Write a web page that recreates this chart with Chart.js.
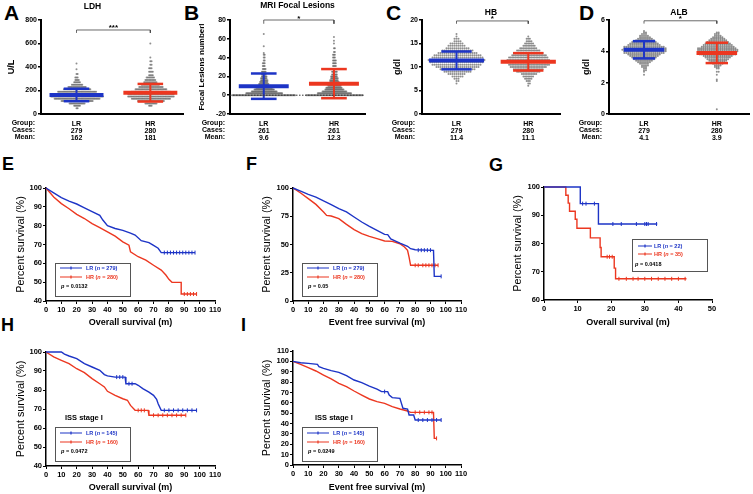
<!DOCTYPE html>
<html>
<head>
<meta charset="utf-8">
<title>LR vs HR</title>
<script src="https://cdn.jsdelivr.net/npm/chart.js@4.4.1/dist/chart.umd.min.js"></script>
<style>
  html, body { margin: 0; padding: 0; background: #fff; }
  body { position: relative; width: 753px; height: 494px; overflow: hidden; font-family: "Liberation Sans", Arial, sans-serif; }
  canvas { position: absolute; }
  .tag { position: absolute; font-weight: bold; line-height: 1; color: #000; }
</style>
</head>
<body>
<div class="tag" style="left:4px;top:2px;font-size:21px">A</div>
<div class="tag" style="left:184px;top:2px;font-size:21px">B</div>
<div class="tag" style="left:386px;top:2px;font-size:21px">C</div>
<div class="tag" style="left:579px;top:2px;font-size:21px">D</div>
<div class="tag" style="left:2px;top:155px;font-size:18px">E</div>
<div class="tag" style="left:246px;top:155px;font-size:18px">F</div>
<div class="tag" style="left:489px;top:156px;font-size:18px">G</div>
<div class="tag" style="left:1px;top:316px;font-size:18px">H</div>
<div class="tag" style="left:241px;top:316px;font-size:18px">I</div>
<script>
// ---- data: dot plots (value bins and number of patients in each bin) ----
const groups = ['LR', 'HR'];

const ldhLRValues = [50, 70, 90, 110, 130, 150, 170, 190, 210, 230, 250, 270, 290, 310, 340, 380, 430];
const ldhLRCounts = [2, 6, 14, 28, 40, 46, 42, 34, 24, 16, 10, 6, 4, 3, 2, 1, 1];
const ldhHRValues = [70, 90, 110, 130, 150, 170, 190, 210, 230, 250, 270, 290, 310, 330, 360, 390, 420, 450, 480, 600];
const ldhHRCounts = [3, 10, 22, 32, 38, 38, 32, 26, 20, 15, 11, 9, 7, 4, 4, 3, 2, 2, 1, 1];
const ldhCases = [279, 280];
const ldhMeans = [162, 181];
const ldhSDs = [53, 75];

const mriLRValues = [0, 2, 4, 6, 8, 10, 12, 14, 16, 18, 20, 22, 25, 28, 31, 34, 37, 40, 43, 45, 52, 65];
const mriLRCounts = [69, 40, 28, 22, 18, 14, 11, 9, 8, 7, 6, 5, 5, 4, 3, 3, 2, 2, 2, 1, 1, 1];
const mriHRValues = [0, 2, 4, 6, 8, 10, 12, 14, 16, 18, 20, 22, 25, 28, 31, 34, 37, 40, 43, 46, 50, 55, 58, 62];
const mriHRCounts = [60, 36, 26, 20, 17, 14, 12, 10, 9, 8, 7, 6, 6, 5, 4, 4, 4, 3, 3, 2, 2, 1, 1, 1];
const mriCases = [261, 261];
const mriMeans = [9.6, 12.3];
const mriSDs = [13.5, 15.5];

const hbLRValues = [6.5, 7, 7.5, 8, 8.5, 9, 9.5, 10, 10.5, 11, 11.5, 12, 12.5, 13, 13.5, 14, 14.5, 15, 15.5, 16, 16.5, 17];
const hbLRCounts = [1, 2, 3, 6, 9, 14, 18, 22, 25, 27, 29, 26, 24, 20, 16, 12, 9, 7, 4, 3, 1, 1];
const hbHRValues = [6, 6.5, 7, 7.5, 8, 8.5, 9, 9.5, 10, 10.5, 11, 11.5, 12, 12.5, 13, 13.5, 14, 14.5, 15, 15.5, 16, 16.5];
const hbHRCounts = [1, 2, 3, 5, 7, 10, 15, 19, 23, 26, 28, 27, 25, 22, 19, 15, 11, 8, 6, 4, 3, 1];
const hbCases = [279, 280];
const hbMeans = [11.4, 11.1];
const hbSDs = [1.9, 1.85];

const albLRValues = [2.5, 2.7, 2.8, 2.9, 3.0, 3.1, 3.2, 3.3, 3.4, 3.5, 3.6, 3.7, 3.8, 3.9, 4.0, 4.1, 4.2, 4.3, 4.4, 4.5, 4.6, 4.7, 4.8, 4.9, 5.0, 5.1, 5.2, 5.3];
const albLRCounts = [1, 1, 2, 2, 3, 4, 5, 7, 9, 11, 13, 15, 17, 21, 22, 23, 22, 21, 17, 15, 13, 10, 8, 6, 5, 3, 2, 1];
const albHRValues = [0.3, 2.1, 2.2, 2.5, 2.7, 2.9, 3.0, 3.1, 3.2, 3.3, 3.4, 3.5, 3.6, 3.7, 3.8, 3.9, 4.0, 4.1, 4.2, 4.3, 4.4, 4.5, 4.6, 4.7, 4.8, 4.9, 5.0, 5.1, 5.2];
const albHRCounts = [1, 1, 1, 1, 2, 2, 3, 4, 6, 8, 10, 12, 14, 16, 20, 21, 22, 22, 21, 18, 16, 14, 12, 10, 8, 6, 4, 3, 2];
const albCases = [279, 280];
const albMeans = [4.1, 3.9];
const albSDs = [0.55, 0.65];

// ---- data: Kaplan-Meier curves (months, % surviving) ----
const osTimeLR = [0, 5, 10, 15, 20, 25, 30, 35, 37, 40, 45, 50, 55, 58, 62, 67, 70, 73, 75, 97];
const osSurvLR = [100, 97.4, 94.9, 93, 91.5, 89.5, 87.5, 85.5, 83, 80, 78.5, 77.5, 76, 75, 72, 71, 69.5, 68, 65.7, 65.7];
const osTimeHR = [0, 5, 10, 15, 20, 25, 30, 35, 40, 45, 50, 54, 55, 60, 65, 70, 75, 78, 80, 82, 88, 88, 98];
const osSurvHR = [100, 95.2, 91.7, 89, 86, 83.8, 81.1, 79, 76.7, 74.4, 71.4, 69.6, 66.1, 63.5, 61.7, 59, 56.4, 53.8, 51.5, 49.9, 49.9, 43.7, 43.7];
const osCensorTimeLR = [77, 79, 81, 83, 85, 87, 89, 91, 93, 95, 97];
const osCensorSurvLR = [65.7, 65.7, 65.7, 65.7, 65.7, 65.7, 65.7, 65.7, 65.7, 65.7, 65.7];
const osCensorTimeHR = [90, 92, 94, 96, 98];
const osCensorSurvHR = [43.7, 43.7, 43.7, 43.7, 43.7];

const efsTimeLR = [0, 5, 10, 15, 20, 25, 30, 35, 40, 45, 50, 55, 60, 62, 64, 70, 75, 77, 80, 92, 92.5, 97];
const efsSurvLR = [100, 97.3, 94.4, 92, 88.5, 85.3, 81.7, 78.8, 74.3, 69.9, 66, 62.5, 59, 58.7, 55, 51.3, 48.4, 46.3, 45.4, 44.8, 21.8, 21.8];
const efsTimeHR = [0, 5, 10, 15, 20, 22, 25, 30, 35, 40, 45, 50, 55, 60, 65, 70, 73, 75, 76, 77, 95];
const efsSurvHR = [100, 95.6, 90.6, 85.5, 78.8, 75.8, 75.2, 72.9, 67.8, 63.1, 59.6, 57.2, 55.2, 53.1, 52.8, 50.7, 47.8, 44.8, 38.9, 31.6, 31.6];
const efsCensorTimeLR = [82, 84, 86, 88, 90, 97];
const efsCensorSurvLR = [45, 45, 45, 45, 45, 21.8];
const efsCensorTimeHR = [80, 82, 85, 87, 89, 91, 93, 95];
const efsCensorSurvHR = [31.6, 31.6, 31.6, 31.6, 31.6, 31.6, 31.6, 31.6];

const subTimeLR = [0, 10.8, 16.2, 33.7];
const subSurvLR = [100, 94.1, 86.9, 86.9];
const subTimeHR = [0, 6.5, 7.2, 7.6, 9.3, 9.8, 13.8, 16.7, 17.0, 20.9, 21.3, 42.4];
const subSurvHR = [100, 97.1, 94.3, 91.4, 88.6, 85.4, 82.0, 78.6, 75.3, 71.3, 67.5, 67.5];
const subCensorTimeLR = [11.5, 12.5, 15, 20.5, 23, 27.5, 30, 30.5, 31, 33.5];
const subCensorSurvLR = [94.1, 94.1, 94.1, 86.9, 86.9, 86.9, 86.9, 86.9, 86.9, 86.9];
const subCensorTimeHR = [18.8, 19.5, 20.3, 22.3, 24.5, 26.5, 28, 30, 32, 34, 36, 38, 40, 42];
const subCensorSurvHR = [75.3, 75.3, 75.3, 67.5, 67.5, 67.5, 67.5, 67.5, 67.5, 67.5, 67.5, 67.5, 67.5, 67.5];

const issOsTimeLR = [0, 10, 12, 15, 20, 25, 30, 35, 38, 40, 45, 51.5, 52, 58, 60, 63, 67, 70, 72, 73, 75, 98];
const issOsSurvLR = [100, 100, 98.9, 97.9, 96.5, 93.9, 92.1, 90.4, 88.1, 87.4, 86.8, 86.8, 83.3, 83.3, 82.5, 80.7, 78.9, 77.2, 75.1, 72.8, 69.3, 69.3];
const issOsTimeHR = [0, 5, 10, 15, 20, 25, 30, 35, 38, 40, 45, 50, 53, 55, 58, 66.5, 67, 91];
const issOsSurvHR = [100, 97.4, 95.6, 93.9, 91.2, 89.1, 86, 83.3, 81.6, 79.3, 77.2, 75.4, 74.6, 71.9, 69.3, 69.3, 66.7, 66.7];
const issOsCensorTimeLR = [46, 48, 50, 54, 56, 77, 80, 83, 86, 89, 92, 95, 98];
const issOsCensorSurvLR = [86.8, 86.8, 86.8, 83.3, 83.3, 69.3, 69.3, 69.3, 69.3, 69.3, 69.3, 69.3, 69.3];
const issOsCensorTimeHR = [60, 62, 64, 70, 73, 76, 79, 82, 85, 88, 91];
const issOsCensorSurvHR = [69.3, 69.3, 69.3, 66.7, 66.7, 66.7, 66.7, 66.7, 66.7, 66.7, 66.7];

const issEfsTimeLR = [0, 5, 10, 16, 17, 20, 25, 30, 35, 40, 45, 50, 55, 58, 62, 63, 65, 70, 71, 72, 75, 76, 79, 80, 97];
const issEfsSurvLR = [100, 98.7, 98.1, 97.1, 94.9, 93.3, 91, 89.4, 86.2, 82, 79.4, 76.2, 73.3, 70.8, 70.8, 67.5, 65, 64.3, 59.5, 54.7, 54, 48.2, 48.2, 43.4, 43.4];
const issEfsTimeHR = [0, 5, 10, 15, 20, 25, 30, 35, 40, 45, 50, 55, 60, 65, 70, 75, 77, 92, 92.5, 94];
const issEfsSurvHR = [100, 97.1, 93.9, 90.7, 86.8, 83, 78.8, 75.6, 71.4, 67.5, 63.7, 61.1, 59.5, 56.3, 54, 52.1, 50.8, 50.8, 25.7, 25.7];
const issEfsCensorTimeLR = [60, 82, 85, 88, 91, 94, 97];
const issEfsCensorSurvLR = [70.8, 43.4, 43.4, 43.4, 43.4, 43.4, 43.4];
const issEfsCensorTimeHR = [80, 83, 86, 89, 91, 94];
const issEfsCensorSurvHR = [50.8, 50.8, 50.8, 50.8, 50.8, 25.7];

// ---- styling ----
const FONT = '"Liberation Sans", Arial, sans-serif';
const BLUE = '#1d34c6';
const RED = '#ec3720';
const DOT = 'rgba(95,95,95,0.7)';
const LR_X = 0.25, HR_X = 0.77; // group centres on the 0..1 x scale

Chart.defaults.font.family = FONT;
Chart.defaults.color = '#000';
Chart.defaults.animation = false;

function makeCanvas(g) {
  const c = document.createElement('canvas');
  const left = Math.round(g.plot[0] - g.yw), top = Math.round(g.plot[1] - g.pt);
  const w = Math.round(g.plot[2] + g.pr) - left, h = Math.round(g.plot[3] + g.xh) - top;
  c.style.left = left + 'px'; c.style.top = top + 'px';
  c.width = w; c.height = h;
  document.body.appendChild(c);
  g.yw = g.plot[0] - left; g.xh = top + h - g.plot[3]; g.pt = g.plot[1] - top; g.pr = left + w - g.plot[2];
  return c;
}

// fixed-size axes so the plot area lands where the figure has it
const fixW = w => s => { s.width = w; s.paddingTop = 0; s.paddingBottom = 0; };
const fixH = h => s => { s.height = h; s.paddingLeft = 0; s.paddingRight = 0; };

function swarm(vals, counts, xc, gap) {
  const pts = [];
  vals.forEach((v, i) => {
    for (let k = 0; k < counts[i]; k++) {
      const off = (k % 2 ? 1 : -1) * Math.ceil(k / 2);
      pts.push({ x: xc + off * gap, y: v });
    }
  });
  return pts;
}

function seg(pts, color, width, extra) {
  return Object.assign({ data: pts.map(p => ({ x: p[0], y: p[1] })), borderColor: color, borderWidth: width,
    showLine: true, pointRadius: 0, borderCapStyle: 'butt', clip: false }, extra || {});
}

const dotText = {
  id: 'dotText',
  afterDraw(chart, args, o) {
    const { ctx, chartArea: a, scales: { x, y } } = chart;
    ctx.save();
    ctx.fillStyle = '#000';
    ctx.textAlign = 'center';
    ctx.textBaseline = 'middle';
    ctx.font = 'bold 8.5px ' + FONT;
    ctx.fillText(o.title, (a.left + a.right) / 2 + o.titleDx, a.top - o.titleGap);
    ctx.textBaseline = 'alphabetic';
    ctx.font = 'bold 8px ' + FONT;
    ctx.fillText(o.stars, x.getPixelForValue((LR_X + HR_X) / 2), y.getPixelForValue(o.bracket) + 0.5);
    ctx.textAlign = 'right';
    ctx.textBaseline = 'middle';
    ctx.font = 'bold 7px ' + FONT;
    ['Group:', 'Cases:', 'Mean:'].forEach((t, i) => ctx.fillText(t, a.left - o.rowGap, a.bottom + 9.5 + 7 * i));
    ctx.restore();
  }
};

function dotPlot(g, p) {
  const canvas = makeCanvas(g);
  const perPx = 1 / (g.plot[2] - g.plot[0]);
  const centers = [LR_X, HR_X];
  const marks = [], dots = [];
  marks.push(seg([[LR_X, p.bracket - p.tick], [LR_X, p.bracket], [HR_X, p.bracket], [HR_X, p.bracket - p.tick]], '#444', 0.8));
  if (p.zeroLine) marks.push(seg([[0, 0], [1, 0]], '#333', 1, { borderDash: [1.5, 1.5] }));
  p.values.forEach((vals, i) => {
    const xc = centers[i], col = i ? RED : BLUE, m = p.means[i], sd = p.sds[i];
    marks.push(seg([[xc - g.meanHalf, m], [xc + g.meanHalf, m]], col, 4));
    marks.push(seg([[xc - g.capHalf, m + sd], [xc + g.capHalf, m + sd]], col, 2.5));
    marks.push(seg([[xc - g.capHalf, m - sd], [xc + g.capHalf, m - sd]], col, 2.5));
    marks.push(seg([[xc, m - sd], [xc, m + sd]], col, 2));
    dots.push({ data: swarm(vals, p.counts[i], xc, g.dotGap[i] * perPx), pointRadius: 1,
      pointBackgroundColor: DOT, pointBorderWidth: 0, showLine: false });
  });
  const labels = groups.map((grp, i) => [grp, String(p.cases[i]), String(p.means[i])]);
  new Chart(canvas, {
    type: 'scatter',
    data: { datasets: marks.concat(dots) },
    options: {
      responsive: false, devicePixelRatio: 1,
      layout: { padding: { top: g.pt, right: g.pr, bottom: 0, left: 0 } },
      plugins: { legend: { display: false }, tooltip: { enabled: false },
        dotText: { title: p.title, titleDx: g.titleDx, titleGap: g.titleGap, stars: p.stars, bracket: p.bracket, rowGap: g.rowGap } },
      scales: {
        x: {
          type: 'linear', min: 0, max: 1,
          afterBuildTicks: s => { s.ticks = centers.map(v => ({ value: v })); },
          afterFit: fixH(g.xh),
          grid: { display: false },
          border: { display: true, color: '#000', width: 2 },
          ticks: { autoSkip: false, maxRotation: 0, padding: -1.5, font: { size: 7, weight: 'bold', lineHeight: 1 },
            callback: (v, i) => labels[i] }
        },
        y: {
          min: p.min, max: p.max,
          afterFit: fixW(g.yw),
          grid: { drawOnChartArea: false, color: '#000', lineWidth: 1.5, tickLength: 3 },
          border: { display: true, color: '#000', width: 2 },
          ticks: { stepSize: p.step, padding: 1, font: { size: 7, weight: 'bold' } },
          title: { display: true, text: p.yTitle, padding: { top: 6.6, bottom: 0 }, font: { size: p.yTitleSize, weight: 'bold' } }
        }
      }
    },
    plugins: [dotText]
  });
}

function drawRich(ctx, parts, x, y, size) {
  parts.forEach(([txt, style]) => {
    ctx.font = style + ' ' + size + 'px ' + FONT;
    ctx.fillText(txt, x, y);
    x += ctx.measureText(txt).width;
  });
}

const kmText = {
  id: 'kmText',
  afterDraw(chart, args, o) {
    const { ctx, chartArea: a } = chart;
    const L = o.box;
    const bx = Math.round(a.left + L.x), by = Math.round(a.top + L.y);
    ctx.save();
    ctx.strokeStyle = '#555';
    ctx.lineWidth = 1;
    ctx.strokeRect(bx + 0.5, by + 0.5, L.w, L.h);
    ctx.textAlign = 'left';
    ctx.textBaseline = 'middle';
    o.series.forEach((s, i) => {
      const ry = by + L.rows[i];
      ctx.strokeStyle = s.color;
      ctx.lineWidth = 1.2;
      ctx.beginPath();
      ctx.moveTo(bx + L.line[0], ry);
      ctx.lineTo(bx + L.line[1], ry);
      const mx = bx + (L.line[0] + L.line[1]) / 2;
      ctx.moveTo(mx, ry - 1.5);
      ctx.lineTo(mx, ry + 1.5);
      ctx.stroke();
      ctx.fillStyle = s.color;
      drawRich(ctx, [[s.name + ' (', 'bold'], ['n', 'italic bold'], [' = ' + s.n + ')', 'bold']], bx + L.textX, ry, 5.5);
    });
    ctx.fillStyle = '#000';
    drawRich(ctx, [['p', 'italic bold'], [' = ' + o.p, 'bold']], bx + L.pX, by + L.rows[2], 5.5);
    if (o.note) {
      ctx.font = 'bold 7.5px ' + FONT;
      ctx.fillText(o.note.text, a.left + o.note.x, a.top + o.note.y);
    }
    ctx.restore();
  }
};

function kmGeo(plot, yTitleX, xTitleY) {
  return { plot, yw: plot[0] - Math.round(yTitleX - 8.5), pt: 7, pr: 10, xh: Math.round(xTitleY + 5.4) - plot[3] };
}

function kmPlot(g, k) {
  const canvas = makeCanvas(g);
  const datasets = [];
  k.curves.forEach(c => {
    datasets.push({ data: c.t.map((t, i) => ({ x: t, y: c.s[i] })), borderColor: c.color, borderWidth: 1.4,
      pointRadius: 0, showLine: true, stepped: !!k.stepped, clip: false });
    datasets.push({ data: c.ct.map((t, i) => ({ x: t, y: c.cs[i] })), pointStyle: 'line', rotation: 90,
      pointRadius: 2, pointBorderColor: c.color, pointBorderWidth: 1, showLine: false, clip: false });
  });
  new Chart(canvas, {
    type: 'scatter',
    data: { datasets },
    options: {
      responsive: false, devicePixelRatio: 1,
      layout: { padding: { top: g.pt, right: g.pr, bottom: 0, left: 0 } },
      plugins: { legend: { display: false }, tooltip: { enabled: false },
        kmText: { box: k.box, series: k.curves, p: k.p, note: k.note } },
      scales: {
        x: {
          type: 'linear', min: 0, max: k.xMax,
          afterFit: fixH(g.xh),
          grid: { drawOnChartArea: false, color: '#000', lineWidth: 1, tickLength: 3 },
          border: { display: true, color: '#000', width: 1.5 },
          ticks: { stepSize: 10, autoSkip: false, maxRotation: 0, padding: 1, font: { size: 7.5, weight: 'bold' } },
          title: { display: true, text: k.xTitle, padding: { top: 0, bottom: 0 }, font: { size: 9, weight: 'bold' } }
        },
        y: {
          min: k.yMin, max: k.yMax,
          afterFit: fixW(g.yw),
          grid: { drawOnChartArea: false, color: '#000', lineWidth: 1, tickLength: 3 },
          border: { display: true, color: '#000', width: 1.5 },
          ticks: { stepSize: k.yStep, autoSkip: false, padding: 1, font: { size: 7.5, weight: 'bold' } },
          title: { display: true, text: 'Percent survival (%)', padding: { top: 2, bottom: 0 }, font: { size: 10.8 } }
        }
      }
    },
    plugins: [kmText]
  });
}

// ---- top row: dot plots ----
dotPlot({ plot: [41, 20, 183, 114], yw: 41, pt: 20, pr: 6, xh: 34, meanHalf: 0.19, capHalf: 0.09, dotGap: [1.15, 1.23], titleDx: -19.5, titleGap: 13, rowGap: 6 },
  { title: 'LDH', yTitle: 'U/L', yTitleSize: 9, min: 0, max: 800, step: 200, stars: '***', bracket: 715, tick: 25,
    values: [ldhLRValues, ldhHRValues], counts: [ldhLRCounts, ldhHRCounts], cases: ldhCases, means: ldhMeans, sds: ldhSDs });

dotPlot({ plot: [230, 20, 365, 114], yw: 40, pt: 20, pr: 4, xh: 34, meanHalf: 0.185, capHalf: 0.095, dotGap: [0.92, 0.95], titleDx: 0, titleGap: 14, rowGap: 5 },
  { title: 'MRI Focal Lesions', yTitle: 'Focal Lesions numberl', yTitleSize: 8, min: -20, max: 80, step: 20, stars: '*', bracket: 80, tick: 4, zeroLine: true,
    values: [mriLRValues, mriHRValues], counts: [mriLRCounts, mriHRCounts], cases: mriCases, means: mriMeans, sds: mriSDs });

dotPlot({ plot: [422, 20, 560, 114], yw: 36, pt: 20, pr: 4, xh: 34, meanHalf: 0.2, capHalf: 0.11, dotGap: [2, 1.6], titleDx: 0, titleGap: 7.5, rowGap: 7 },
  { title: 'HB', yTitle: 'g/dl', yTitleSize: 9, min: 0, max: 20, step: 5, stars: '*', bracket: 19.8, tick: 0.6,
    values: [hbLRValues, hbHRValues], counts: [hbLRCounts, hbHRCounts], cases: hbCases, means: hbMeans, sds: hbSDs });

dotPlot({ plot: [609, 20, 751, 114], yw: 34, pt: 20, pr: 2, xh: 34, meanHalf: 0.145, capHalf: 0.08, dotGap: [2, 1.9], titleDx: 0, titleGap: 7.5, rowGap: 7 },
  { title: 'ALB', yTitle: 'g/dl', yTitleSize: 9, min: 0, max: 6, step: 2, stars: '*', bracket: 5.95, tick: 0.18,
    values: [albLRValues, albHRValues], counts: [albLRCounts, albHRCounts], cases: albCases, means: albMeans, sds: albSDs });

// ---- survival curves ----
const legendWide = { x: 9, y: 75, w: 75, h: 33, rows: [5, 14, 23], line: [5, 27], textX: 31, pX: 6 };

kmPlot(kmGeo([46, 188, 215, 301], 21, 323), {
  xMax: 110, yMin: 40, yMax: 100, yStep: 10, xTitle: 'Overall survival (m)', p: '0.0132', box: legendWide,
  curves: [
    { name: 'LR', n: 279, color: BLUE, t: osTimeLR, s: osSurvLR, ct: osCensorTimeLR, cs: osCensorSurvLR },
    { name: 'HR', n: 280, color: RED, t: osTimeHR, s: osSurvHR, ct: osCensorTimeHR, cs: osCensorSurvHR }
  ]
});

kmPlot(kmGeo([293, 188, 461, 301], 267, 323), {
  xMax: 110, yMin: 0, yMax: 100, yStep: 25, xTitle: 'Event free survival (m)', p: '0.05', box: legendWide,
  curves: [
    { name: 'LR', n: 279, color: BLUE, t: efsTimeLR, s: efsSurvLR, ct: efsCensorTimeLR, cs: efsCensorSurvLR },
    { name: 'HR', n: 280, color: RED, t: efsTimeHR, s: efsSurvHR, ct: efsCensorTimeHR, cs: efsCensorSurvHR }
  ]
});

kmPlot(kmGeo([544, 187, 712, 300], 518, 323), {
  xMax: 50, yMin: 60, yMax: 100, yStep: 10, xTitle: 'Overall survival (m)', p: '0.0418', stepped: true,
  box: { x: 88, y: 52, w: 75, h: 32, rows: [7, 15, 25], line: [6, 20], textX: 22, pX: 3 },
  curves: [
    { name: 'LR', n: 22, color: BLUE, t: subTimeLR, s: subSurvLR, ct: subCensorTimeLR, cs: subCensorSurvLR },
    { name: 'HR', n: 35, color: RED, t: subTimeHR, s: subSurvHR, ct: subCensorTimeHR, cs: subCensorSurvHR }
  ]
});

kmPlot(kmGeo([46, 352, 215, 466], 21, 488), {
  xMax: 110, yMin: 40, yMax: 100, yStep: 10, xTitle: 'Overall survival (m)', p: '0.0472',
  box: { x: 9, y: 75, w: 75, h: 34, rows: [6, 15, 24], line: [5, 27], textX: 31, pX: 6 },
  note: { text: 'ISS stage I', x: 19, y: 66 },
  curves: [
    { name: 'LR', n: 145, color: BLUE, t: issOsTimeLR, s: issOsSurvLR, ct: issOsCensorTimeLR, cs: issOsCensorSurvLR },
    { name: 'HR', n: 160, color: RED, t: issOsTimeHR, s: issOsSurvHR, ct: issOsCensorTimeHR, cs: issOsCensorSurvHR }
  ]
});

kmPlot(kmGeo([293, 351, 461, 465], 267, 488), {
  xMax: 110, yMin: 0, yMax: 110, yStep: 10, xTitle: 'Event free survival (m)', p: '0.0249',
  box: { x: 9, y: 76, w: 75, h: 34, rows: [6, 15, 24], line: [5, 27], textX: 31, pX: 6 },
  note: { text: 'ISS stage I', x: 22, y: 67 },
  curves: [
    { name: 'LR', n: 145, color: BLUE, t: issEfsTimeLR, s: issEfsSurvLR, ct: issEfsCensorTimeLR, cs: issEfsCensorSurvLR },
    { name: 'HR', n: 160, color: RED, t: issEfsTimeHR, s: issEfsSurvHR, ct: issEfsCensorTimeHR, cs: issEfsCensorSurvHR }
  ]
});
</script>
</body>
</html>
